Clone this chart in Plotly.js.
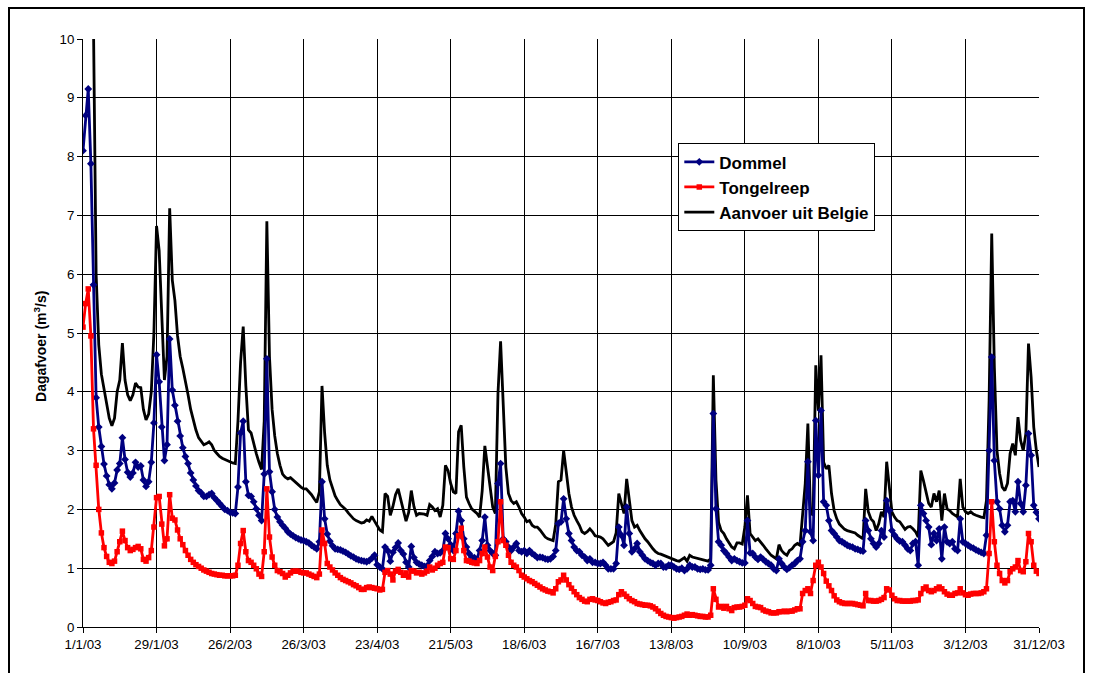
<!DOCTYPE html>
<html>
<head>
<meta charset="utf-8">
<script src="https://cdn.plot.ly/plotly-3.0.1.min.js"></script>
<style>
html, body { margin: 0; padding: 0; background: #fff; overflow: hidden; }
#chart { position: absolute; left: 0; top: 0; width: 1094px; height: 673px; }
#frame { position: absolute; left: 8px; top: 7px; width: 1073px; height: 720px; border: 2px solid #000; pointer-events: none; }
</style>
</head>
<body>
<div id="chart"></div>
<div id="frame"></div>
<script>
// Daily discharge 2003 (m3/s), 1 Jan .. 31 Dec
const startDate = '2003-01-01';

const dommel = [
8.1, 8.7, 9.15, 7.88, 5.82, 3.9, 3.4, 3.07, 2.77, 2.57,
2.42, 2.35, 2.45, 2.67, 2.78, 3.22, 2.85, 2.63, 2.55, 2.62,
2.8, 2.72, 2.74, 2.5, 2.39, 2.47, 2.8, 3.47, 4.63, 4.17,
3.4, 2.83, 3.1, 4.9, 4.03, 3.77, 3.5, 3.25, 3.05, 2.9,
2.78, 2.62, 2.5, 2.4, 2.32, 2.28, 2.22, 2.22, 2.25, 2.27,
2.2, 2.15, 2.1, 2.05, 2.0, 1.98, 1.95, 1.94, 1.93, 2.38,
3.3, 3.5, 2.47, 2.24, 2.22, 2.13, 2.01, 1.9, 1.81, 2.6,
4.56, 2.64, 2.3, 2.0, 1.87, 1.79, 1.73, 1.68, 1.62, 1.58,
1.55, 1.52, 1.5, 1.48, 1.47, 1.45, 1.43, 1.39, 1.36, 1.33,
1.45, 2.47, 1.84, 1.58, 1.46, 1.38, 1.33, 1.32, 1.31, 1.29,
1.27, 1.24, 1.21, 1.19, 1.16, 1.14, 1.13, 1.12, 1.11, 1.13,
1.17, 1.22, 1.06, 1.02, 0.99, 1.36, 1.3, 1.12, 1.27, 1.35,
1.43, 1.3, 1.24, 1.1, 1.02, 1.37, 1.18, 1.1, 1.07, 1.05,
1.03, 1.04, 1.13, 1.2, 1.28, 1.25, 1.26, 1.3, 1.59, 1.5,
1.4, 1.3, 1.59, 1.97, 1.81, 1.5, 1.36, 1.25, 1.19, 1.18,
1.15, 1.3, 1.47, 1.87, 1.39, 1.3, 1.25, 1.22, 2.44, 2.78,
1.5, 1.45, 1.36, 1.3, 1.36, 1.42, 1.3, 1.28, 1.3, 1.25,
1.3, 1.25, 1.22, 1.18, 1.19, 1.18, 1.16, 1.15, 1.16, 1.2,
1.3, 1.76, 1.79, 2.18, 1.84, 1.59, 1.47, 1.36, 1.3, 1.28,
1.22, 1.19, 1.13, 1.16, 1.1, 1.1, 1.08, 1.08, 1.1, 1.05,
0.99, 0.99, 0.99, 1.08, 1.7, 1.56, 1.39, 2.04, 1.59, 1.28,
1.33, 1.42, 1.28, 1.22, 1.16, 1.13, 1.1, 1.08, 1.05, 1.08,
1.08, 1.02, 1.02, 1.05, 1.05, 1.02, 0.99, 0.98, 1.0, 0.96,
0.99, 1.05, 1.02, 1.02, 0.99, 0.98, 0.99, 0.97, 0.97, 1.05,
3.63, 2.01, 1.45, 1.39, 1.3, 1.25, 1.19, 1.13, 1.16, 1.13,
1.11, 1.09, 1.09, 1.81, 1.26, 1.25, 1.19, 1.15, 1.19, 1.15,
1.11, 1.08, 1.05, 0.99, 0.96, 1.16, 1.08, 1.02, 0.98, 1.01,
1.05, 1.08, 1.13, 1.16, 1.45, 1.64, 2.81, 1.62, 1.47, 3.51,
2.58, 3.68, 2.13, 2.07, 1.81, 1.64, 1.59, 1.53, 1.47, 1.45,
1.42, 1.39, 1.37, 1.36, 1.33, 1.32, 1.3, 1.29, 1.81, 1.64,
1.5, 1.42, 1.36, 1.42, 1.64, 1.53, 2.15, 1.98, 1.64, 1.56,
1.5, 1.46, 1.45, 1.39, 1.33, 1.3, 1.42, 1.45, 1.05, 2.07,
1.93, 1.81, 1.7, 1.4, 1.59, 1.47, 1.67, 1.16, 1.7, 1.45,
1.42, 1.45, 1.33, 1.3, 1.84, 1.45, 1.42, 1.39, 1.36, 1.34,
1.31, 1.29, 1.27, 1.25, 1.56, 3.0, 4.59, 2.83, 2.13, 2.01,
1.73, 1.62, 1.73, 2.13, 2.15, 1.96, 2.47, 2.1, 1.96, 2.41,
3.29, 2.92, 2.07, 1.95, 1.84
];

const tongelreep = [
5.1, 5.5, 5.75, 4.95, 3.37, 2.75, 2.0, 1.6, 1.35, 1.2,
1.1, 1.08, 1.12, 1.28, 1.45, 1.63, 1.47, 1.35, 1.3, 1.32,
1.35, 1.37, 1.33, 1.15, 1.12, 1.18, 1.3, 1.7, 2.2, 2.22,
1.75, 1.38, 1.5, 2.25, 1.85, 1.82, 1.65, 1.5, 1.4, 1.3,
1.22, 1.15, 1.1, 1.06, 1.03, 1.0, 0.97, 0.95, 0.93, 0.91,
0.9, 0.89, 0.88, 0.88, 0.87, 0.87, 0.87, 0.87, 0.88, 1.05,
1.42, 1.64, 1.28, 1.13, 1.1, 1.05, 0.99, 0.9, 0.86, 1.28,
2.35, 1.53, 1.19, 1.05, 0.96, 0.94, 0.91, 0.85, 0.88, 0.92,
0.95, 0.95, 0.95, 0.93, 0.92, 0.92, 0.9, 0.88, 0.86, 0.84,
0.9, 1.65, 1.42, 1.08, 1.02, 0.97, 0.92, 0.88, 0.84, 0.81,
0.79, 0.77, 0.75, 0.72, 0.7, 0.67, 0.64, 0.64, 0.67, 0.68,
0.67, 0.66, 0.65, 0.63, 0.64, 0.93, 0.96, 0.9, 0.8, 0.95,
0.98, 0.93, 0.88, 0.92, 0.85, 0.96, 0.95, 0.92, 0.93, 0.9,
0.92, 0.95, 1.02, 0.97, 1.0, 1.05, 1.08, 1.1, 1.36, 1.35,
1.16, 1.15, 1.3, 1.55, 1.68, 1.3, 1.13, 1.12, 1.1, 1.09,
1.08, 1.13, 1.25, 1.36, 1.19, 1.02, 0.96, 1.2, 1.45, 2.13,
1.47, 1.39, 1.22, 1.1, 1.05, 1.02, 0.96, 0.88, 0.85, 0.82,
0.79, 0.77, 0.74, 0.71, 0.68, 0.65, 0.63, 0.61, 0.6, 0.58,
0.65, 0.77, 0.8, 0.88, 0.8, 0.72, 0.66, 0.6, 0.55, 0.5,
0.47, 0.44, 0.43, 0.47, 0.48, 0.46, 0.45, 0.43, 0.41, 0.4,
0.42, 0.43, 0.45, 0.46, 0.55, 0.6, 0.56, 0.52, 0.48, 0.45,
0.43, 0.4, 0.39, 0.38, 0.37, 0.37, 0.36, 0.34, 0.31, 0.27,
0.23, 0.2, 0.18, 0.17, 0.16, 0.15, 0.16, 0.17, 0.18, 0.2,
0.22, 0.2, 0.21, 0.2, 0.19, 0.18, 0.18, 0.17, 0.17, 0.2,
0.65, 0.47, 0.34, 0.35, 0.32, 0.35, 0.31, 0.28, 0.33, 0.34,
0.34, 0.35, 0.37, 0.48, 0.45, 0.4, 0.35, 0.34, 0.33, 0.29,
0.27, 0.26, 0.24, 0.24, 0.24, 0.26, 0.26, 0.27, 0.26, 0.27,
0.27, 0.29, 0.31, 0.31, 0.57, 0.62, 0.65, 0.57, 0.79, 1.05,
1.1, 1.02, 0.91, 0.78, 0.7, 0.62, 0.53, 0.46, 0.43, 0.41,
0.4, 0.4, 0.4, 0.4, 0.39, 0.38, 0.37, 0.36, 0.57, 0.45,
0.45, 0.44, 0.44, 0.45, 0.47, 0.5, 0.65, 0.63, 0.54, 0.48,
0.45, 0.45, 0.44, 0.44, 0.44, 0.44, 0.45, 0.45, 0.46, 0.57,
0.65, 0.68, 0.62, 0.6, 0.62, 0.65, 0.68, 0.65, 0.6, 0.56,
0.54, 0.54, 0.57, 0.58, 0.65, 0.58, 0.55, 0.54, 0.56, 0.57,
0.57, 0.57, 0.58, 0.6, 0.65, 1.25, 2.13, 1.45, 1.05, 0.91,
0.79, 0.75, 0.79, 0.94, 0.99, 1.02, 1.13, 0.96, 0.94, 1.11,
1.59, 1.45, 1.05, 0.95, 0.91
];

const aanvoerBelgie = [
11.5, 12.5, 13.0, 12.5, 10.2, 6.0, 4.8, 4.3, 4.05, 3.75,
3.55, 3.42, 3.55, 4.0, 4.2, 4.83, 4.2, 3.95, 3.85, 3.95,
4.15, 4.08, 4.07, 3.7, 3.52, 3.62, 4.0, 5.0, 6.82, 6.4,
5.2, 4.2, 4.6, 7.12, 5.9, 5.55, 4.95, 4.6, 4.4, 4.2,
3.95, 3.7, 3.5, 3.35, 3.22, 3.15, 3.1, 3.12, 3.15, 3.1,
3.0, 2.95, 2.9, 2.87, 2.85, 2.83, 2.8, 2.79, 2.78, 3.5,
4.5, 5.11, 4.1, 3.35, 3.3, 3.1, 2.95, 2.8, 2.68, 3.5,
6.9, 4.6, 3.7, 3.25, 2.95, 2.75, 2.6, 2.55, 2.52, 2.54,
2.5, 2.45, 2.41, 2.38, 2.35, 2.35, 2.3, 2.25, 2.18, 2.12,
2.3, 4.1, 3.3, 2.75, 2.5, 2.35, 2.23, 2.15, 2.08, 2.04,
2.0, 1.94, 1.88, 1.84, 1.81, 1.79, 1.77, 1.78, 1.82, 1.8,
1.88, 1.8, 1.72, 1.65, 1.62, 2.27, 2.22, 1.9, 2.05, 2.25,
2.35, 2.15, 1.98, 1.8, 1.95, 2.32, 2.05, 1.9, 1.93, 1.93,
1.92, 1.9, 2.08, 2.04, 1.98, 2.01, 1.87, 2.07, 2.75, 2.66,
2.44, 2.3, 2.27, 3.32, 3.43, 2.72, 2.21, 2.1, 2.01, 1.97,
1.93, 1.87, 2.32, 3.08, 2.72, 2.32, 2.04, 1.93, 3.97, 4.86,
3.63, 2.72, 2.27, 2.15, 2.1, 2.13, 2.04, 1.93, 1.87, 1.79,
1.81, 1.73, 1.7, 1.7, 1.65, 1.59, 1.53, 1.5, 1.48, 1.47,
1.75, 2.47, 2.5, 3.0, 2.64, 2.27, 2.04, 1.9, 1.81, 1.73,
1.62, 1.59, 1.62, 1.67, 1.62, 1.55, 1.54, 1.53, 1.5, 1.45,
1.39, 1.42, 1.45, 1.6, 2.27, 2.1, 1.93, 2.52, 2.15, 1.81,
1.7, 1.73, 1.64, 1.56, 1.5, 1.45, 1.38, 1.33, 1.28, 1.25,
1.24, 1.22, 1.2, 1.19, 1.16, 1.14, 1.13, 1.12, 1.15, 1.18,
1.12, 1.22, 1.19, 1.18, 1.16, 1.16, 1.15, 1.13, 1.12, 1.16,
4.28, 2.5, 1.78, 1.64, 1.59, 1.5, 1.42, 1.36, 1.33, 1.43,
1.43, 1.41, 1.7, 2.24, 1.59, 1.53, 1.47, 1.5, 1.45, 1.39,
1.33, 1.28, 1.22, 1.19, 1.16, 1.4, 1.3, 1.25, 1.22, 1.3,
1.33, 1.39, 1.42, 1.39, 1.98, 2.44, 3.46, 1.95, 1.9, 4.45,
3.68, 4.62, 2.8, 2.69, 2.75, 2.27, 1.98, 1.84, 1.75, 1.7,
1.66, 1.64, 1.63, 1.61, 1.6, 1.56, 1.53, 1.5, 2.35, 1.96,
1.84, 1.79, 1.64, 1.76, 1.96, 1.87, 2.81, 2.38, 1.96, 1.87,
1.81, 1.79, 1.73, 1.66, 1.7, 1.71, 1.67, 1.62, 1.53, 2.66,
2.49, 2.27, 2.1, 2.04, 2.27, 2.13, 2.32, 1.81, 2.27, 2.01,
1.98, 1.93, 1.9, 1.87, 2.52, 2.04, 1.96, 1.93, 1.96, 1.92,
1.9, 1.88, 1.87, 1.86, 2.15, 3.85, 6.69, 4.42, 3.0, 2.61,
2.38, 2.32, 2.44, 2.95, 3.12, 2.92, 3.57, 3.17, 3.0, 3.29,
4.82, 4.25, 3.4, 3.0, 2.72
];

const tickDates = ['2003-01-01','2003-01-29','2003-02-26','2003-03-26','2003-04-23','2003-05-21','2003-06-18',
                   '2003-07-16','2003-08-13','2003-09-10','2003-10-08','2003-11-05','2003-12-03','2003-12-31'];
const tickLabels = ['1/1/03','29/1/03','26/2/03','26/3/03','23/4/03','21/5/03','18/6/03',
                    '16/7/03','13/8/03','10/9/03','8/10/03','5/11/03','3/12/03','31/12/03'];
const seriesNames = ['Dommel', 'Tongelreep', 'Aanvoer uit Belgie'];
const yTitle = 'Dagafvoer (m<sup>3</sup>/s)';

// daily date categories
const dates = [];
const t0 = Date.UTC(2003, 0, 1);
for (let i = 0; i < dommel.length; i++) {
  const d = new Date(t0 + i * 86400000);
  dates.push(d.toISOString().slice(0, 10));
}

const FONT = '"Liberation Sans", Arial, sans-serif';

const traces = [
  {
    x: dates, y: aanvoerBelgie, name: seriesNames[2], type: 'scatter', mode: 'lines',
    line: { color: '#000000', width: 2.8 }, legendrank: 3
  },
  {
    x: dates, y: dommel, name: seriesNames[0], type: 'scatter', mode: 'lines+markers',
    line: { color: '#000080', width: 2.8 },
    marker: { symbol: 'diamond', size: 6, color: '#000080' }, legendrank: 1
  },
  {
    x: dates, y: tongelreep, name: seriesNames[1], type: 'scatter', mode: 'lines+markers',
    line: { color: '#FF0000', width: 2.8 },
    marker: { symbol: 'square', size: 5.5, color: '#FF0000' }, legendrank: 2
  }
];

const layout = {
  width: 1094, height: 673,
  margin: { l: 83, r: 55, t: 39, b: 46 },
  paper_bgcolor: '#ffffff', plot_bgcolor: '#ffffff',
  font: { family: FONT, color: '#000' },
  showlegend: true,
  legend: {
    x: 0.6227, y: 0.8226, xanchor: 'left', yanchor: 'top',
    bgcolor: '#ffffff', bordercolor: '#000', borderwidth: 1,
    font: { family: FONT, size: 17, color: '#000', weight: 'bold' },
    traceorder: 'normal', tracegroupgap: 0
  },
  xaxis: {
    type: 'date', range: [tickDates[0], tickDates[tickDates.length - 1]],
    tickmode: 'array', tickvals: tickDates, ticktext: tickLabels,
    ticks: 'outside', ticklen: 5, tickcolor: '#000', tickwidth: 1,
    showline: true, linecolor: '#000', linewidth: 1,
    showgrid: true, gridcolor: '#000', gridwidth: 1,
    zeroline: false, fixedrange: true,
    tickfont: { family: FONT, size: 13.3, color: '#000' }
  },
  yaxis: {
    range: [0, 10], tick0: 0, dtick: 1,
    ticks: 'outside', ticklen: 5, tickcolor: '#000', tickwidth: 1,
    showline: true, linecolor: '#000', linewidth: 1,
    showgrid: true, gridcolor: '#000', gridwidth: 1,
    zeroline: false, fixedrange: true,
    tickfont: { family: FONT, size: 13.3, color: '#000' }
  },
  annotations: [{
    text: '<b>' + yTitle + '</b>', xref: 'paper', yref: 'paper',
    x: -0.045, y: 0.478, xanchor: 'center', yanchor: 'middle',
    textangle: -90, showarrow: false,
    font: { family: FONT, size: 14, color: '#000' }
  }]
};

Plotly.newPlot('chart', traces, layout, { staticPlot: true, displayModeBar: false });
</script>
</body>
</html>
